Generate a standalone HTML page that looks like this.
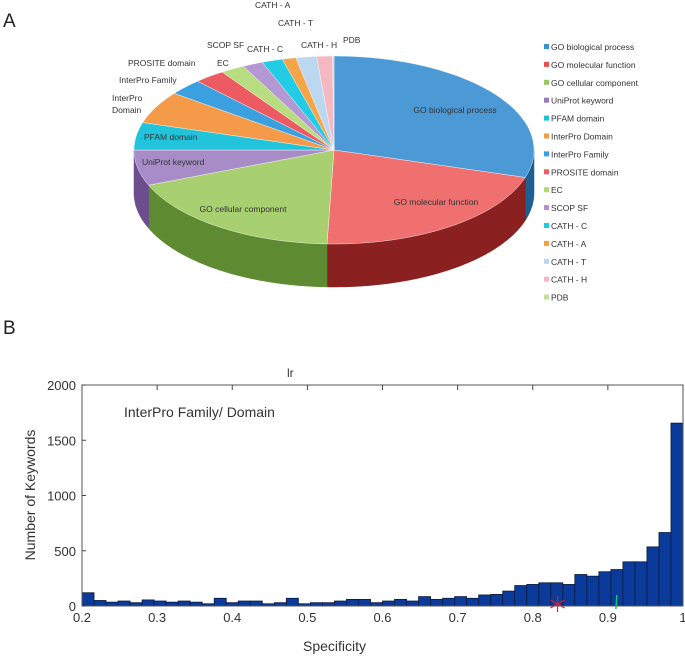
<!DOCTYPE html>
<html><head><meta charset="utf-8"><style>
body{margin:0;background:#fff;width:685px;height:657px;overflow:hidden;font-family:"Liberation Sans",sans-serif}
svg{position:absolute;left:0;top:0}
</style></head><body>
<svg id="s" width="685" height="657" viewBox="0 0 685 657">
<text x="3" y="27" font-size="19" fill="#222">A</text>
<text x="3" y="334" font-size="19" fill="#222">B</text>
<g id="pie"></g>
<g id="legend"></g>
<g id="hist"></g>
</svg>
<script>
const pieNames=["GO biological process","GO molecular function","GO cellular component","UniProt keyword","PFAM domain","InterPro Domain","InterPro Family","PROSITE domain","EC","SCOP SF","CATH - C","CATH - A","CATH - T","CATH - H","PDB"];
const pieShares=[107,75,66,22,17,20,10,9,7,6,6,4,6,4.6,0.4];
const pieTop=["#4b9ad6","#f07070","#a8d070","#a88cc8","#22c4dc","#f59a48","#3aa0e0","#ec5a62","#b8dc80","#b498d4","#22cce4","#f5a448","#bcd8f0","#f6b8c0","#c8e4a0"];
const pieSide=["#1d5f92","#8a2020","#5e8a32","#6c4e8e","#1590a0","#b86a20","#2070a0","#a03038","#80a050","#806aa0","#1590a0","#b87020","#80a0c0","#c08088","#90b070"];
const legendColors=["#3a8fd0","#e85050","#98c860","#9a78c0","#20c0d8","#f59a40","#3a9ee0","#ec5a62","#b0d878","#b090d0","#20c8e0","#f5a040","#b8d8f0","#f6b8c0","#c0e098"];
const NS="http://www.w3.org/2000/svg";
function mk(t,a,p){const e=document.createElementNS(NS,t);for(const k in a)e.setAttribute(k,a[k]);p.appendChild(e);return e;}
const cx=334,cy=150,rx=200,ry=94,dep=43;
function pt(a,dy){const r=a*Math.PI/180;return [cx+rx*Math.sin(r),cy-ry*Math.cos(r)+(dy||0)];}
const pie=document.getElementById('pie');
const tot=pieShares.reduce((a,b)=>a+b,0);
let ang=[0];pieShares.forEach((v,i)=>ang.push(ang[i]+v/tot*360));
pieShares.forEach((v,i)=>{
  const s=Math.max(ang[i],90),e=Math.min(ang[i+1],270);
  if(e<=s)return;
  let pts=[];
  for(let a=s;a<=e+0.001;a+=1)pts.push(pt(Math.min(a,e)));
  pts.push(pt(e));
  let back=[];for(let a=e;a>=s-0.001;a-=1)back.push(pt(Math.max(a,s),dep));back.push(pt(s,dep));
  const d="M"+pts.map(p=>p[0].toFixed(1)+","+p[1].toFixed(1)).join("L")+"L"+back.map(p=>p[0].toFixed(1)+","+p[1].toFixed(1)).join("L")+"Z";
  const el=mk('path',{d:d,fill:pieSide[i],stroke:pieSide[i],'stroke-width':0.5},pie);
  
  
});
pieShares.forEach((v,i)=>{
  let pts=[];for(let a=ang[i];a<ang[i+1];a+=1)pts.push(pt(a));pts.push(pt(ang[i+1]));
  const d="M"+cx+","+cy+"L"+pts.map(p=>p[0].toFixed(1)+","+p[1].toFixed(1)).join("L")+"Z";
  const el=mk('path',{d:d,fill:pieTop[i],stroke:"#fff",'stroke-width':0.4},pie);
  
  
});
const labs=[["GO biological process",455,113,"middle"],["GO molecular function",436,205,"middle"],["GO cellular component",243,212,"middle"],["UniProt keyword",142,165,"start"],["PFAM domain",144,140,"start"],["InterPro",112,101,"start"],["Domain",112,113,"start"],["InterPro Family",119,83,"start"],["PROSITE domain",128,66,"start"],["EC",217,66,"start"],["SCOP SF",207,48,"start"],["CATH - C",247,52,"start"],["CATH - A",255,8,"start"],["CATH - T",278,26,"start"],["CATH - H",301,48,"start"],["PDB",343,43,"start"]];
labs.forEach(l=>{const t=mk('text',{x:l[1],y:l[2],'text-anchor':l[3],'font-size':8.5,fill:"#333"},pie);t.textContent=l[0];

});
const lg=document.getElementById('legend');
pieNames.forEach((n,i)=>{const y=47+i*17.9;
 const r=mk('rect',{x:544,y:y-3,width:5,height:5,fill:legendColors[i]},lg);
 
 
 const t=mk('text',{x:551,y:y+3,'font-size':8.5,fill:"#333"},lg);t.textContent=n;
 
 });

const binCounts=[120,50,35,45,30,55,45,35,45,35,20,70,30,45,45,20,30,70,20,30,30,45,60,60,30,45,60,45,85,60,70,85,70,100,105,135,185,195,210,210,195,285,270,310,330,400,400,535,665,1655];
const yTicks=[0,500,1000,1500,2000];
const xTicks=[0.2,0.3,0.4,0.5,0.6,0.7,0.8,0.9,1];
const xMin=0.2,xMax=1.0,yMax=2000;
const L=82,R=683,T=385,B=606;
const X=v=>L+(v-xMin)/(xMax-xMin)*(R-L);
const Y=c=>B-c/yMax*(B-T);
const h=document.getElementById('hist');
const bw=(xMax-xMin)/binCounts.length;
binCounts.forEach((c,i)=>{const x0=X(xMin+i*bw),x1=X(xMin+(i+1)*bw);
 const r=mk('rect',{x:x0,y:Y(c),width:x1-x0,height:B-Y(c),fill:"#0a3a9a",stroke:"#0a1a40",'stroke-width':0.8},h);
 
 });
const fr=mk('rect',{x:L,y:T,width:R-L,height:B-T,fill:"none",stroke:"#555",'stroke-width':1},h);


xTicks.forEach(v=>{mk('line',{x1:X(v),x2:X(v),y1:T,y2:T+5,stroke:"#444"},h);
 const t=mk('text',{x:X(v),y:622,'text-anchor':'middle','font-size':13,fill:"#333"},h);t.textContent=String(v);
 
 });
yTicks.forEach(v=>{mk('line',{x1:L,x2:L+4,y1:Y(v),y2:Y(v),stroke:"#444"},h);
 const t=mk('text',{x:76,y:Y(v)+5,'text-anchor':'end','font-size':13,fill:"#333"},h);t.textContent=String(v);
 
 });
const redMark=0.833,greenMark=0.912;
const sx=X(redMark),sy=B-2;
[[0,-8,0,8],[-7,-4,7,4],[-7,4,7,-4]].forEach(d=>mk('line',{x1:sx+d[0],y1:sy+d[1],x2:sx+d[2],y2:sy+d[3],stroke:"#e02030",'stroke-width':1.2},h));
mk('line',{x1:X(greenMark),y1:B-11,x2:X(greenMark)-1,y2:B+3,stroke:"#20c070",'stroke-width':1.5},h);
</script>
<div style="position:absolute;left:287px;top:366px;font-size:12px;color:#333">lr</div>
<div style="position:absolute;left:124px;top:404px;font-size:14px;color:#333">InterPro Family/ Domain</div>
<div style="position:absolute;left:303px;top:638px;font-size:14px;color:#333">Specificity</div>
<div style="position:absolute;left:-40px;top:487px;width:140px;text-align:center;font-size:14px;color:#333;transform:rotate(-90deg)">Number of Keywords</div>
</body></html>
